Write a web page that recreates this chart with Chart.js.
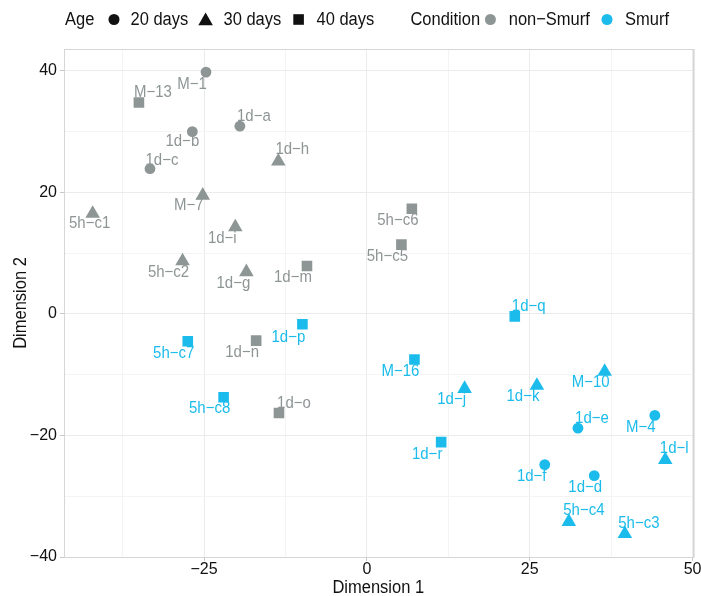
<!DOCTYPE html>
<html><head><meta charset="utf-8">
<script src="https://cdn.jsdelivr.net/npm/chart.js@4"></script>
<style>html,body{margin:0;padding:0;background:#fff}#c{display:block}</style>
</head><body>
<canvas id="c" width="701" height="596"></canvas>
<script>
// ---- data ----
const sampleNames = ['M−1','M−13','1d−a','1d−b','1d−c','1d−h','M−7','5h−c1','1d−i','5h−c2','1d−g','1d−m','5h−c6','5h−c5','1d−n','1d−o',
  '1d−q','1d−p','5h−c7','5h−c8','M−16','1d−j','1d−k','M−10','1d−e','M−4','1d−r','1d−l','1d−f','1d−d','5h−c4','5h−c3'];
const dim1 = [-24.7,-35.0,-19.5,-26.8,-33.3,-13.6,-25.2,-42.1,-20.2,-28.3,-18.5,-9.2,6.9,5.3,-17.0,-13.5,
  22.7,-9.9,-27.5,-22.0,7.3,15.0,26.1,36.5,32.4,44.2,11.4,45.8,27.3,34.9,31.0,39.6];
const dim2 = [39.8,34.8,30.9,30.0,23.9,25.1,19.5,16.5,14.3,8.7,6.9,7.9,17.3,11.4,-4.4,-16.3,
  -0.4,-1.7,-4.5,-13.7,-7.5,-12.3,-11.8,-9.5,-18.8,-16.7,-21.1,-24.0,-24.8,-26.6,-34.2,-36.2];
const ageDays = [20,40,20,20,20,30,30,30,30,30,30,40,40,40,40,40,
  40,40,40,40,40,30,30,30,20,20,40,30,20,20,30,30];
const condition = ['non-Smurf','non-Smurf','non-Smurf','non-Smurf','non-Smurf','non-Smurf','non-Smurf','non-Smurf','non-Smurf','non-Smurf','non-Smurf','non-Smurf','non-Smurf','non-Smurf','non-Smurf','non-Smurf',
  'Smurf','Smurf','Smurf','Smurf','Smurf','Smurf','Smurf','Smurf','Smurf','Smurf','Smurf','Smurf','Smurf','Smurf','Smurf','Smurf'];
const ageLevels = [20,30,40];
const ageLegendLabels = ['20 days','30 days','40 days'];
const conditionLevels = ['non-Smurf','Smurf'];
const conditionLegendLabels = ['non−Smurf','Smurf'];
const xMajorTicks = [-25,0,25,50];
const yMajorTicks = [-40,-20,0,20,40];
// label nudges (px) as placed by the repel layout
const labelDx = [-14,14,14,-10,12,14,-14,-3,-13,-14,-13,-14,-14,-14,-14,15,
  14,-14,-14,-14,-14,-13,-14,-14,14,-14,-14,9,-13,-9,15,14];
const labelDy = [12,-10,-10,10,-8,-12,10,10,11,11,11,12,12,12,12,-10,
  -10,13,12,11,12,11,11,11,-10,12,12,-11,12,12,-11,-10];

// ---- styles ----
const COLORS = {'non-Smurf':'#8E9595','Smurf':'#1BBCEB'};
const SHAPE = {20:'circle',30:'triangle',40:'rect'};
const RADIUS = {circle:5.4,triangle:8.4,rect:7.5};
const FONT = '"Liberation Sans", Arial, Helvetica, sans-serif';
const STRETCH = 1.1;
const minus = s => String(s).replace('-', '−');

const datasets = conditionLevels.map(cond => {
  const idx = condition.map((c,i)=>c===cond?i:-1).filter(i=>i>=0);
  return {
    label: cond,
    data: idx.map(i => ({x: dim1[i], y: dim2[i], name: sampleNames[i], dx: labelDx[i], dy: labelDy[i]})),
    pointStyle: idx.map(i => SHAPE[ageDays[i]]),
    pointRadius: idx.map(i => RADIUS[SHAPE[ageDays[i]]]),
    pointHoverRadius: idx.map(i => RADIUS[SHAPE[ageDays[i]]]),
    backgroundColor: COLORS[cond],
    borderColor: COLORS[cond],
    borderWidth: 0,
    pointBorderWidth: 0
  };
});

function shape(ctx, kind, x, y, r) {
  ctx.beginPath();
  if (kind === 'circle') ctx.arc(x, y, r, 0, Math.PI*2);
  else if (kind === 'triangle') {
    ctx.moveTo(x, y - r);
    ctx.lineTo(x + 0.866*r, y + 0.5*r);
    ctx.lineTo(x - 0.866*r, y + 0.5*r);
    ctx.closePath();
  } else {
    const s = r*Math.SQRT1_2;
    ctx.rect(x - s, y - s, 2*s, 2*s);
  }
  ctx.fill();
}
function text(ctx, t, x, y, rot) {
  ctx.save();
  ctx.translate(x, y);
  if (rot) ctx.rotate(rot);
  ctx.scale(1, STRETCH);
  ctx.fillText(t, 0, 0);
  ctx.restore();
}

const panelPlugin = {
  id: 'panel',
  beforeDatasetsDraw(chart) {
    const {ctx, chartArea: a} = chart;
    ctx.save();
    ctx.strokeStyle = '#D6D6D6';
    ctx.lineWidth = 1;
    ctx.strokeRect(Math.round(a.left)+0.5, Math.round(a.top)+0.5, Math.round(a.right - a.left), Math.round(a.bottom - a.top));
    ctx.strokeStyle = '#E6E6E6';
    ctx.beginPath();
    ctx.moveTo(Math.round(a.right)+1.5, a.top);
    ctx.lineTo(Math.round(a.right)+1.5, a.bottom + 0.5);
    ctx.stroke();
    ctx.restore();
  },
  afterDatasetsDraw(chart) {
    const {ctx} = chart;
    ctx.save();
    ctx.font = '15px ' + FONT;
    ctx.textAlign = 'center';
    ctx.textBaseline = 'middle';
    chart.data.datasets.forEach((ds, di) => {
      const meta = chart.getDatasetMeta(di);
      ctx.fillStyle = ds.backgroundColor;
      meta.data.forEach((el, j) => {
        const d = ds.data[j];
        text(ctx, d.name, el.x + d.dx, el.y + d.dy);
      });
    });
    ctx.restore();
  },
  afterDraw(chart) {
    const {ctx, chartArea: a} = chart;
    ctx.save();
    ctx.fillStyle = '#111';
    ctx.font = '16.5px ' + FONT;
    ctx.textBaseline = 'middle';
    ctx.textAlign = 'center';
    text(ctx, 'Dimension 1', (a.left + a.right)/2, 588);
    text(ctx, 'Dimension 2', 21, (a.top + a.bottom)/2, -Math.PI/2);
    // legend
    const ly = 19.5;
    ctx.textAlign = 'left';
    ctx.font = '16.5px ' + FONT;
    text(ctx, 'Age', 65, ly);
    const ageSym = [114, 205.6, 298.6];
    const ageTxt = [130.5, 223.5, 316.5];
    ageLevels.forEach((lv, i) => {
      ctx.fillStyle = '#111';
      const k = SHAPE[lv];
      shape(ctx, k, ageSym[i], ly + (k==='triangle'?1.5:0), k==='circle'?5.5:RADIUS[k]);
      text(ctx, ageLegendLabels[i], ageTxt[i], ly);
    });
    ctx.fillStyle = '#111';
    text(ctx, 'Condition', 410.4, ly);
    const cSym = [490.4, 607];
    const cTxt = [508.7, 625];
    conditionLevels.forEach((lv, i) => {
      ctx.fillStyle = COLORS[lv];
      shape(ctx, 'circle', cSym[i], ly, 5.5);
      ctx.fillStyle = '#111';
      text(ctx, conditionLegendLabels[i], cTxt[i], ly);
    });
    ctx.restore();
  }
};

const isMajor = (arr, v) => arr.some(t => Math.abs(t - v) < 1e-6);

new Chart(document.getElementById('c'), {
  type: 'scatter',
  data: { datasets },
  options: {
    responsive: false,
    animation: false,
    events: [],
    layout: { padding: { top: 49, right: 8, left: 0, bottom: 0 } },
    plugins: { legend: { display: false }, tooltip: { enabled: false } },
    scales: {
      x: {
        type: 'linear', min: -46.5, max: 50,
        afterFit(s) { s.height = 39; },
        border: { display: false },
        grid: {
          color: c => (c.tick && isMajor(xMajorTicks, c.tick.value)) ? '#EBEBEB' : '#F4F4F4',
          tickColor: c => (c.tick && isMajor(xMajorTicks, c.tick.value)) ? '#C8C8C8' : 'rgba(0,0,0,0)',
          tickLength: 4, lineWidth: 1
        },
        ticks: {
          stepSize: 12.5, includeBounds: false, autoSkip: false, maxRotation: 0,
          padding: -1, color: '#111', font: { family: FONT, size: 16 },
          callback: v => isMajor(xMajorTicks, v) ? minus(v) : ''
        }
      },
      y: {
        type: 'linear', min: -40, max: 43.6,
        afterFit(s) { s.width = 64; },
        border: { display: false },
        grid: {
          color: c => (c.tick && isMajor(yMajorTicks, c.tick.value)) ? '#EBEBEB' : '#F4F4F4',
          tickColor: c => (c.tick && isMajor(yMajorTicks, c.tick.value)) ? '#C8C8C8' : 'rgba(0,0,0,0)',
          tickLength: 4, lineWidth: 1
        },
        ticks: {
          stepSize: 10, includeBounds: false, autoSkip: false,
          padding: 3, color: '#111', font: { family: FONT, size: 16 },
          callback: v => isMajor(yMajorTicks, v) ? minus(v) : ''
        }
      }
    }
  },
  plugins: [panelPlugin]
});
</script>
</body></html>
